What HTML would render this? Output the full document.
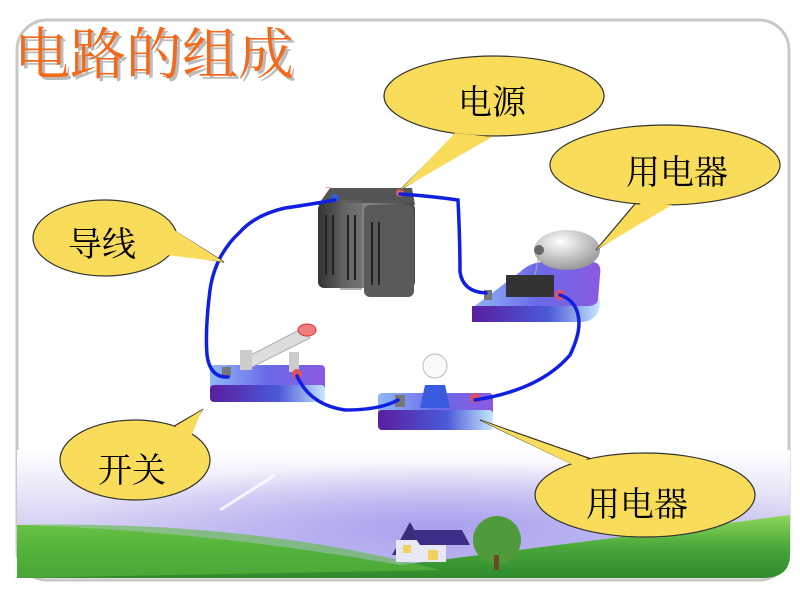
<!DOCTYPE html>
<html><head><meta charset="utf-8"><style>
html,body{margin:0;padding:0;background:#fff;}
svg{display:block;}
text{font-family:"Liberation Serif","Noto Serif CJK SC","Noto Sans CJK SC",serif;}
</style></head><body>
<svg width="800" height="600" viewBox="0 0 800 600" xmlns="http://www.w3.org/2000/svg">
<defs>
<linearGradient id="sky" x1="0" y1="0" x2="0" y2="1">
<stop offset="0" stop-color="#ffffff"/><stop offset="0.5" stop-color="#dcd8f4"/><stop offset="1" stop-color="#b9b3ee"/>
</linearGradient>
<radialGradient id="skyr" cx="0.55" cy="0.6" r="0.5">
<stop offset="0" stop-color="#a8a0ee"/><stop offset="1" stop-color="#a8a0ee" stop-opacity="0"/>
</radialGradient>
<linearGradient id="grass" x1="0" y1="0" x2="0" y2="1">
<stop offset="0" stop-color="#8fd85a"/><stop offset="0.5" stop-color="#4aa83a"/><stop offset="1" stop-color="#2f8a2c"/>
</linearGradient>
<linearGradient id="board" x1="0" y1="0" x2="1" y2="0">
<stop offset="0" stop-color="#5a1ea0"/><stop offset="0.6" stop-color="#4a5ad8"/><stop offset="1" stop-color="#c8e8ff"/>
</linearGradient>
<linearGradient id="boardtop" x1="0" y1="0" x2="1" y2="0">
<stop offset="0" stop-color="#8fb8f8"/><stop offset="0.5" stop-color="#6a6ae8"/><stop offset="1" stop-color="#8a5ae0"/>
</linearGradient>
<linearGradient id="bat" x1="0" y1="0" x2="1" y2="0">
<stop offset="0" stop-color="#333"/><stop offset="0.5" stop-color="#888"/><stop offset="1" stop-color="#444"/>
</linearGradient>
<radialGradient id="bell" cx="0.4" cy="0.3" r="0.7">
<stop offset="0" stop-color="#fff"/><stop offset="1" stop-color="#999"/>
</radialGradient>
</defs>

<rect x="17" y="20" width="772" height="560" rx="30" fill="#fff" stroke="#c8c8c8" stroke-width="3"/>
<path d="M17 450 H790 V550 Q790 578 762 578 H17 Z" fill="url(#sky)"/>
<rect x="17" y="450" width="773" height="128" fill="url(#skyr)"/>
<rect x="200" y="300" width="420" height="150" fill="#fff"/>
<path d="M220 510 L275 475" stroke="#fff" stroke-width="3" opacity="0.8"/>
<path d="M17 525 Q200 530 400 565 Q600 540 790 515 V555 Q790 578 762 578 H17 Z" fill="url(#grass)"/>
<path d="M17 525 Q250 520 440 570 L17 578 Z" fill="#5cbd3e" opacity="0.6"/>
<polygon points="392,555 410,522 428,555" fill="#3a2e7a"/>
<rect x="396" y="540" width="50" height="22" fill="#e8e8f4"/>
<polygon points="410,530 462,530 470,545 420,545" fill="#3c2e86"/>
<rect x="403" y="545" width="8" height="8" fill="#f0d060"/>
<rect x="428" y="550" width="10" height="10" fill="#f0d060"/>
<ellipse cx="497" cy="540" rx="24" ry="24" fill="#4f9a3a"/>
<rect x="494" y="555" width="5" height="15" fill="#6b4a2a"/>

<text x="17" y="77" font-size="56" fill="#bbb" font-family="Liberation Sans,'Noto Sans CJK SC',sans-serif">电路的组成</text>
<text x="14" y="74" font-size="56" fill="#f26a1c" font-family="Liberation Sans,'Noto Sans CJK SC',sans-serif">电路的组成</text>

<g>
<polygon points="318,205 330,188 412,188 415,205" fill="#555"/>
<rect x="318" y="203" width="97" height="85" rx="6" fill="url(#bat)"/>
<rect x="340" y="200" width="22" height="90" fill="#666" opacity="0.5"/>
<rect x="364" y="205" width="50" height="92" rx="6" fill="#5a5a5a"/>
<g stroke="#222" stroke-width="2">
<line x1="326" y1="215" x2="326" y2="275"/><line x1="333" y1="215" x2="333" y2="275"/>
<line x1="348" y1="215" x2="348" y2="280"/><line x1="355" y1="215" x2="355" y2="280"/>
<line x1="372" y1="222" x2="372" y2="285"/><line x1="379" y1="222" x2="379" y2="285"/>
</g>
<circle cx="335" cy="198" r="4" fill="#3060e0"/>
<circle cx="400" cy="193" r="4" fill="#e06060"/>
<text x="325" y="191" font-size="10" fill="#e04040">−</text>
</g>

<!-- bell board -->
<path d="M472 308 L520 272 Q530 262 545 262 H592 Q602 262 600 275 L598 300 Q595 310 585 310 H472 Z" fill="url(#boardtop)"/>
<path d="M472 306 H588 Q598 306 600 296 V304 Q598 322 580 322 H472 Z" fill="url(#board)"/>
<ellipse cx="567" cy="250" rx="33" ry="20" fill="url(#bell)"/>
<circle cx="539" cy="250" r="5" fill="#666"/>
<line x1="539" y1="255" x2="535" y2="275" stroke="#aaa"/>
<rect x="506" y="275" width="48" height="22" fill="#333"/>
<rect x="484" y="290" width="8" height="10" fill="#777"/>
<circle cx="560" cy="295" r="5" fill="#e05060"/>

<rect x="210" y="365" width="115" height="37" rx="4" fill="url(#boardtop)"/>
<rect x="210" y="385" width="115" height="17" rx="4" fill="url(#board)"/>
<polygon points="245,358 305,327 310,338 250,368" fill="#ddd" stroke="#aaa"/>
<ellipse cx="307" cy="330" rx="9" ry="6" fill="#f08080" stroke="#d03030"/>
<rect x="240" y="350" width="12" height="20" fill="#ccc"/>
<rect x="289" y="352" width="10" height="20" fill="#ccc"/>
<rect x="222" y="367" width="9" height="10" fill="#777"/>
<circle cx="297" cy="374" r="5" fill="#e05060"/>

<rect x="378" y="393" width="115" height="37" rx="4" fill="url(#boardtop)"/>
<rect x="378" y="410" width="115" height="20" rx="4" fill="url(#board)"/>
<circle cx="435" cy="366" r="12" fill="#fafafa" stroke="#bbb"/>
<polygon points="425,385 445,385 450,408 420,408" fill="#3a5ae0"/>
<rect x="395" y="395" width="10" height="12" fill="#777"/>
<circle cx="475" cy="398" r="5" fill="#e05060"/>

<g fill="none" stroke="#1020e0" stroke-width="3.5" stroke-linecap="round">
<path d="M335 200 Q300 206 285 208 Q255 215 240 232 Q215 255 210 290 Q205 330 207 355 Q210 378 228 377"/>
<path d="M297 376 Q310 405 345 410 Q380 410 398 400"/>
<path d="M475 400 Q540 390 570 355 Q582 330 578 315 Q575 300 560 295"/>
<path d="M400 194 Q430 196 458 200 Q460 240 460 272 Q463 292 486 293"/>
</g>

<g fill="#f8dc5a" stroke="#333" stroke-width="1.2">
<path d="M460 130 L400 190 L490 134 Z"/>
<ellipse cx="494" cy="96" rx="110" ry="40"/>
<path d="M640 198 L596 250 L670 202 Z"/>
<ellipse cx="665" cy="165" rx="115" ry="40"/>
<path d="M150 250 L224 262 L165 225 Z"/>
<ellipse cx="105" cy="238" rx="72" ry="38"/>
<path d="M150 440 L202 410 L185 440 Z"/>
<ellipse cx="135" cy="460" rx="75" ry="40"/>
<path d="M585 470 L480 420 L600 462 Z"/>
<ellipse cx="645" cy="495" rx="110" ry="42"/>
</g>
<g fill="#f8dc5a">
<path d="M455 133 L400 190 L492 137 Z"/>
<path d="M642 202 L596 250 L672 205 Z"/>
<path d="M150 253 L224 262 L163 223 Z"/>
<path d="M148 444 L202 410 L188 444 Z"/>
<path d="M588 472 L480 420 L602 465 Z"/>
</g>
<g font-size="34" fill="#000">
<text x="458" y="114">电源</text>
<text x="626" y="184">用电器</text>
<text x="68" y="256">导线</text>
<text x="98" y="482">开关</text>
<text x="586" y="516">用电器</text>
</g>
</svg>
</body></html>
